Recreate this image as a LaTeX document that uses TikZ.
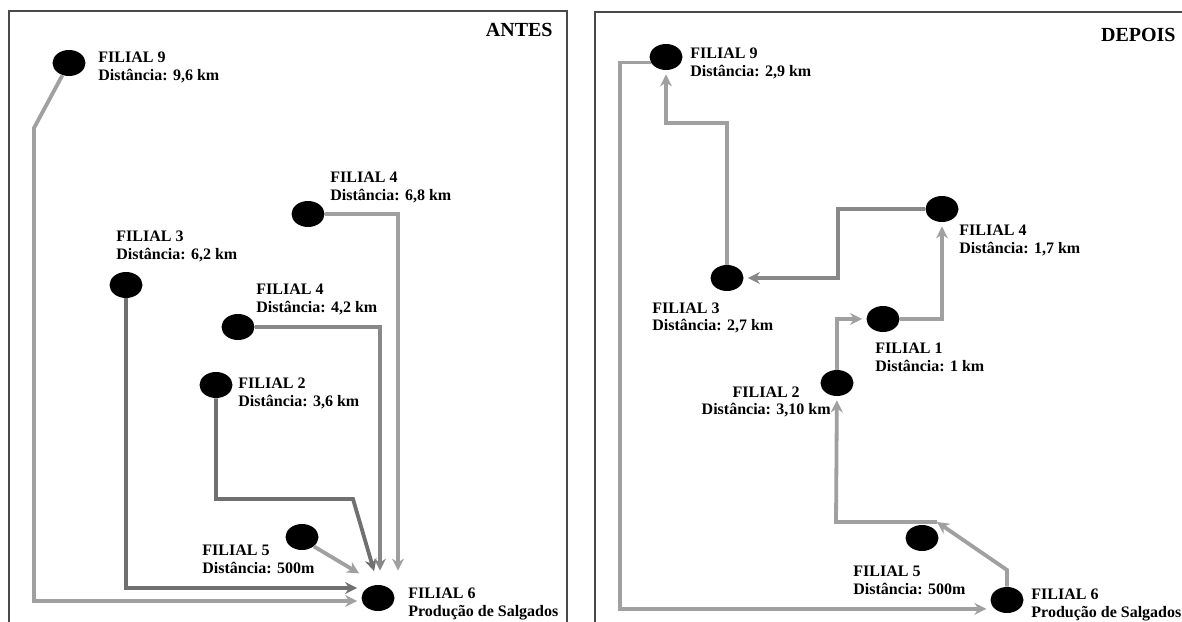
\documentclass[tikz,border=0pt]{standalone}
\usepackage{fontspec}
\setmainfont{Liberation Serif}
\usetikzlibrary{arrows.meta,shapes.geometric}
\definecolor{Moldura}{HTML}{4A4A4A}
\definecolor{CinzaClaro}{HTML}{A0A0A0}
\definecolor{CinzaMedio}{HTML}{888888}
\definecolor{CinzaEscuro}{HTML}{707070}

\begin{document}
\begin{tikzpicture}[x=.5pt,y=-.5pt,
  loja/.style={ellipse,fill=black,inner sep=0pt,minimum width=16.5pt,minimum height=13pt},
  info/.style={anchor=north west,inner sep=0pt,align=left,font=\fontsize{8}{9}\selectfont\bfseries},
  titulo/.style={anchor=base east,inner sep=0pt,font=\fontsize{10}{12}\selectfont\bfseries},
  rota/.style={CinzaClaro,line width=1.9pt,-{Stealth[length=6pt,width=6pt]},shorten >=2pt},
  moldura/.style={Moldura,line width=.7pt}]
  \useasboundingbox (0,0) rectangle (1182,621);
  \fill[white] (0,0) rectangle (1182,621);
  \draw[moldura] (9,630) -- (9,11) -- (567,11) -- (567,630);
  \draw[moldura] (595,630) -- (595,12) -- (1190,12);
  \node[titulo] (antes) at (553,36) {ANTES};
  \node[titulo] (depois) at (1176,41) {DEPOIS};

  \node[loja] (a9) at (69,63) {};
  \node[loja] (a4b) at (308,214) {};
  \node[loja] (a3) at (126,285) {};
  \node[loja] (a4) at (238,327) {};
  \node[loja] (a2) at (216,385) {};
  \node[loja] (a5) at (302,537) {};
  \node[loja] (a6) at (378,598) {};
  \node[info] (ta9) at (98,52) {FILIAL 9\\Distância: 9,6 km};
  \node[info] (ta4b) at (330,172) {FILIAL 4\\Distância: 6,8 km};
  \node[info] (ta3) at (116,231) {FILIAL 3\\Distância: 6,2 km};
  \node[info] (ta4) at (256,284) {FILIAL 4\\Distância: 4,2 km};
  \node[info] (ta2) at (238,377) {FILIAL 2\\Distância: 3,6 km};
  \node[info] (ta5) at (202,545) {FILIAL 5\\Distância: 500m};
  \node[info] (ta6) at (408,587) {FILIAL 6\\Produção de Salgados};

  \draw[rota] (a9) -- (34,128) -- (34,601) -- (a6.west |- 34,601);
  \draw[rota,CinzaEscuro] (a3) -- (126,588) -- (a6.west |- 126,588);
  \draw[rota,CinzaEscuro,shorten >=7pt] (a2) -- (216,499) -- (353,499) -- (a6.north);
  \draw[rota,CinzaMedio,shorten >=7pt] (a4) -- (380,327) -- (a6.north -| 380,0);
  \draw[rota,shorten >=7pt] (a4b) -- (398,214) -- (a6.north -| 398,0);
  \draw[rota,shorten >=11pt] (a5.south east) -- (a6.north);

  \node[loja] (b9) at (666,57) {};
  \node[loja] (b3) at (727,278) {};
  \node[loja] (b4) at (942,209) {};
  \node[loja] (b1) at (883,319) {};
  \node[loja] (b2) at (837,383) {};
  \node[loja] (b5) at (922,538) {};
  \node[loja] (b6) at (1007,600) {};
  \node[info] (tb9) at (690,48) {FILIAL 9\\Distância: 2,9 km};
  \node[info] (tb3) at (652,302) {FILIAL 3\\Distância: 2,7 km};
  \node[info] (tb4) at (959,225) {FILIAL 4\\Distância: 1,7 km};
  \node[info] (tb1) at (875,343) {FILIAL 1\\Distância: 1 km};
  \node[info,anchor=north east,align=center] (tb2) at (831,386) {FILIAL 2\\Distância: 3,10 km};
  \node[info] (tb5) at (853,566) {FILIAL 5\\Distância: 500m};
  \node[info] (tb6) at (1031,588) {FILIAL 6\\Produção de Salgados};

  \coordinate (k1) at (937,522);
  \draw[rota,shorten >=0pt] (b6) -- (1007,570) -- (k1);
  \draw[rota] (k1) -- (836,522) -- (b2);
  \draw[rota] (b2) |- (b1);
  \draw[rota] (b1) -| (b4);
  \draw[rota,CinzaMedio] (b4) -- (838,209) -- (838,278) -- (b3);
  \draw[rota] (b3) |- (700,123) -| (b9);
  \draw[rota,shorten >=4pt] (b9.200) -| (620,330) |- (b6.215);
\end{tikzpicture}
\end{document}
